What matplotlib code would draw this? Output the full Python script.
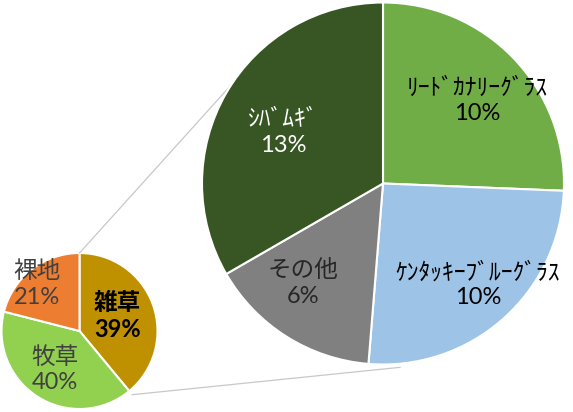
import numpy as np
import matplotlib.pyplot as plt

plt.rcParams['font.family'] = ['Lato', 'Noto Sans CJK JP', 'DejaVu Sans']

# main pie
main_labels = ['雑草', '牧草', '裸地']
main_values = [39, 40, 21]
main_colors = ['#BF9000', '#92D050', '#ED7D31']
main_text_colors = ['#000000', '#404040', '#404040']
main_bold = [True, False, False]
main_label_dist = [0.52, 0.59, 0.81]
main_label_turn = [2, 0, 4.3]

# breakdown of 雑草
sub_labels = ['ﾘｰﾄﾞｶﾅﾘｰｸﾞﾗｽ', 'ｹﾝﾀｯｷｰﾌﾞﾙｰｸﾞﾗｽ', 'その他', 'ｼﾊﾞﾑｷﾞ']
sub_values = [10, 10, 6, 13]
sub_colors = ['#70AD47', '#9DC3E6', '#808080', '#375623']
sub_text_colors = ['#000000', '#000000', '#262626', '#FFFFFF']
sub_label_dist = [0.693, 0.768, 0.705, 0.62]
sub_label_turn = [-2.4, 1.6, -6.5, 3]

W, H = 573, 412
fig = plt.figure(figsize=(W / 100, H / 100), dpi=100)
ax = fig.add_axes([0, 0, 1, 1])

small_c = (79.5, H - 331)
small_r = 78
big_c = (383, H - 183.5)
big_r = 181

ax.pie(main_values, colors=main_colors, startangle=90, counterclock=False,
       center=small_c, radius=small_r, frame=True,
       wedgeprops=dict(edgecolor='white', linewidth=1.5))
ax.pie(sub_values, colors=sub_colors, startangle=90, counterclock=False,
       center=big_c, radius=big_r, frame=True,
       wedgeprops=dict(edgecolor='white', linewidth=1.5, zorder=3))
ax.set_xlim(0, W)
ax.set_ylim(0, H)
ax.set_aspect('equal')
ax.axis('off')


def put_labels(values, labels, center, radius, dists, turns, colors, bold=None, size=17):
    total = sum(values)
    cum = 0
    for i, v in enumerate(values):
        mid = 90 - (cum + v / 2) / total * 360 + turns[i]
        cum += v
        a = np.deg2rad(mid)
        x = center[0] + dists[i] * radius * np.cos(a)
        y = center[1] + dists[i] * radius * np.sin(a)
        pct = '{:d}%'.format(v)
        w = 'bold' if bold is not None and bold[i] else 'normal'
        ax.text(x, y, labels[i] + '\n' + pct, ha='center', va='center',
                color=colors[i], fontsize=size, fontweight=w,
                linespacing=1.25, zorder=5)


put_labels(main_values, main_labels, small_c, small_r, main_label_dist,
           main_label_turn, main_text_colors, main_bold, size=17)
put_labels(sub_values, sub_labels, big_c, big_r, sub_label_dist,
           sub_label_turn, sub_text_colors, size=17)

# connector lines between pies
split = 90 - main_values[0] / sum(main_values) * 360
p1 = (small_c[0], small_c[1] + small_r)
p2 = (small_c[0] + 1.06 * small_r * np.cos(np.deg2rad(split)),
      small_c[1] + 1.06 * small_r * np.sin(np.deg2rad(split)))
q1 = (big_c[0] + big_r * np.cos(np.deg2rad(147)), big_c[1] + big_r * np.sin(np.deg2rad(147)))
q2 = (big_c[0] + 1.02 * big_r * np.cos(np.deg2rad(-84.7)),
      big_c[1] + 1.02 * big_r * np.sin(np.deg2rad(-84.7)))
ax.plot([p1[0], q1[0]], [p1[1], q1[1]], color='#C8C8C8', lw=0.9, zorder=1)
ax.plot([p2[0], q2[0]], [p2[1], q2[1]], color='#C8C8C8', lw=0.9, zorder=1)

fig.savefig('out.png', dpi=100)
